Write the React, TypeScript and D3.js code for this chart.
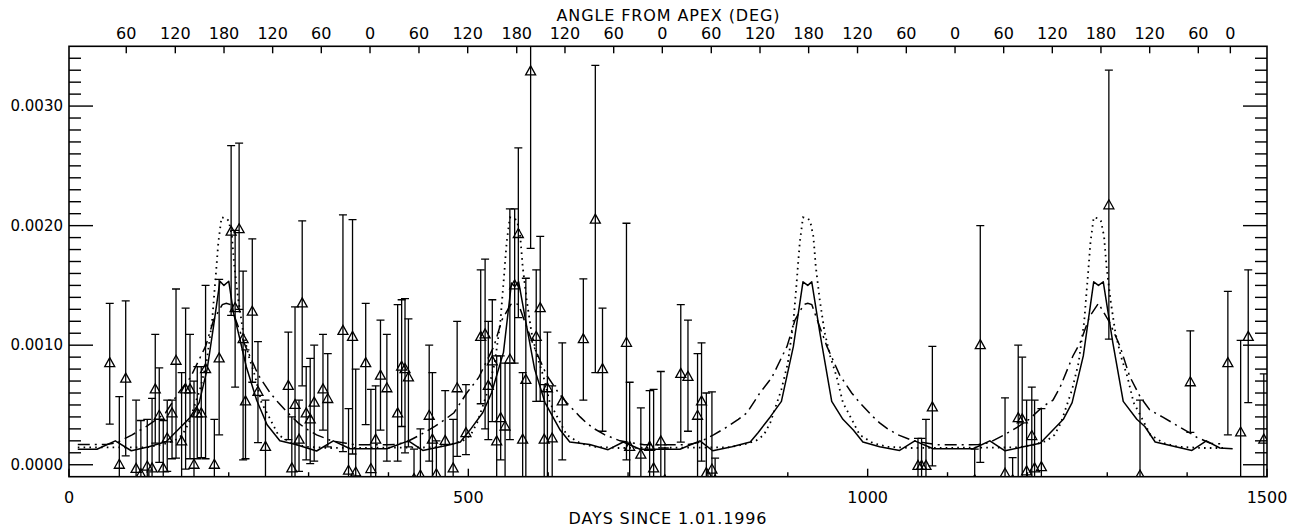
import React from "react";
import * as d3 from "d3";

// Observations: day, value, lower and upper end of the error bar
const obsDay = [51, 63, 71, 84, 90, 98, 104, 108, 113, 118, 123, 129, 134, 141, 146, 151.5, 156.5, 160.6, 165.6, 171, 182, 188, 203, 208, 213, 218, 221, 229.5, 236.6, 246, 274.6, 279, 283, 288, 292, 297, 302, 307, 318, 324, 343, 350, 355, 359, 371.5, 378, 384, 390, 398, 411.5, 416.5, 420.7, 425, 432, 440, 451, 455, 460, 471, 481, 486, 497, 515.5, 521, 525, 530, 535.5, 540.5, 546, 552, 558, 562.6, 568, 572, 578, 585, 590, 595, 599, 605, 617.6, 644, 659, 668, 698, 702, 716, 727, 732, 741, 746, 766, 775, 787, 792, 798, 805, 809, 1063, 1067.5, 1073, 1081, 1134, 1141, 1172, 1181.5, 1188.5, 1193.5, 1199, 1205.5, 1209, 1217.5, 1302, 1341, 1404, 1451, 1467, 1476.5, 1496];
const obsValue = [8.5e-4, 0, 7.2e-4, -0.35e-4, -0.8e-4, -0.15e-4, -0.3e-4, 6.3e-4, 4.1e-4, -0.3e-4, 2.2e-4, 4.3e-4, 8.7e-4, 1.95e-4, 6.3e-4, 6.3e-4, 0, 4.3e-4, 4.3e-4, 8.0e-4, 0, 8.9e-4, 19.5e-4, 13.1e-4, 19.7e-4, 10.5e-4, 5.3e-4, 12.8e-4, 6.1e-4, 1.5e-4, 6.6e-4, -0.3e-4, 5.0e-4, 2.1e-4, 13.5e-4, 4.3e-4, 3.8e-4, 5.2e-4, 6.3e-4, 5.5e-4, 11.2e-4, -0.5e-4, 10.7e-4, -0.65e-4, 8.5e-4, -0.36e-4, 2.1e-4, 7.45e-4, 6.4e-4, 4.3e-4, 8.2e-4, 8.0e-4, 7.3e-4, -1.2e-4, -0.9e-4, 4.1e-4, 2.1e-4, -0.8e-4, 2.0e-4, -0.3e-4, 6.4e-4, 2.65e-4, 10.7e-4, 10.9e-4, 6.6e-4, 8.65e-4, 1.95e-4, 3.9e-4, 3.2e-4, 8.8e-4, 15.0e-4, 19.3e-4, 2.1e-4, 7.1e-4, 32.9e-4, 10.7e-4, 13.1e-4, 2.1e-4, 6.4e-4, 2.2e-4, 5.3e-4, 10.5e-4, 20.5e-4, 8.0e-4, 10.2e-4, 1.5e-4, 0.84e-4, 1.5e-4, -0.3e-4, 1.95e-4, -1.3e-4, 7.6e-4, 7.35e-4, 4.1e-4, 5.3e-4, -0.7e-4, -0.4e-4, -1.3e-4, -0.1e-4, -0.1e-4, -0.1e-4, 4.8e-4, -1.3e-4, 10.0e-4, -0.75e-4, -1.3e-4, 3.9e-4, 3.8e-4, -0.55e-4, 2.4e-4, -0.3e-4, -0.2e-4, 21.7e-4, -0.9e-4, 6.9e-4, 8.5e-4, 2.7e-4, 10.7e-4, 2.1e-4];
const obsLow = [3.4e-4, -2e-4, 0.75e-4, -2e-4, -2e-4, -2e-4, -2e-4, 1.8e-4, 0.2e-4, -2e-4, -0.55e-4, 0.5e-4, 0.55e-4, -2e-4, -0.36e-4, 0.5e-4, -2e-4, 0.5e-4, 0.6e-4, 0.5e-4, -2e-4, 2.5e-4, 12.5e-4, 6.5e-4, 13.0e-4, 0.4e-4, 0.5e-4, 6.9e-4, 1.85e-4, -2e-4, 2.1e-4, -2e-4, -2e-4, -0.55e-4, 6.6e-4, 0.4e-4, 0.1e-4, 0.3e-4, 2.9e-4, 1.5e-4, 1.1e-4, -2e-4, 0.9e-4, -2e-4, 3.35e-4, -2e-4, -2e-4, 2.9e-4, 0.3e-4, 0.3e-4, 3.2e-4, 1.0e-4, 1.5e-4, -2e-4, -2e-4, 0.3e-4, -2e-4, -2e-4, -2e-4, -2e-4, 0.7e-4, 0.84e-4, 5.1e-4, 3.0e-4, 2.1e-4, 3.6e-4, -2e-4, 0.4e-4, -2e-4, 2.1e-4, 8.5e-4, 12.3e-4, -2e-4, -2e-4, 18.1e-4, 5.3e-4, 5.3e-4, -2e-4, -2e-4, -2e-4, 0.4e-4, 5.4e-4, 7.7e-4, 2.8e-4, 0.4e-4, -2e-4, -2e-4, -2e-4, -2e-4, -2e-4, -2e-4, 1.9e-4, 2.8e-4, -2e-4, 0.3e-4, -2e-4, -2e-4, -2e-4, -2e-4, -2e-4, -2e-4, -0.1e-4, -2e-4, 0.2e-4, -2e-4, -2e-4, -2e-4, -2e-4, -2e-4, -2e-4, -2e-4, -2e-4, 10.5e-4, -2e-4, 2.7e-4, 2.5e-4, -2e-4, 5.2e-4, -2e-4];
const obsHigh = [13.5e-4, 5.7e-4, 13.7e-4, 5.4e-4, 3.7e-4, 3.8e-4, 5.55e-4, 10.9e-4, 8.1e-4, 3.7e-4, 5.4e-4, 5.4e-4, 14.7e-4, 7.7e-4, 13.1e-4, 10.9e-4, 7.0e-4, 8.2e-4, 8.2e-4, 15.0e-4, 3.8e-4, 15.5e-4, 26.7e-4, 19.6e-4, 26.9e-4, 16.2e-4, 9.6e-4, 18.9e-4, 10.3e-4, 5.4e-4, 11.1e-4, 4.0e-4, 13.2e-4, 5.4e-4, 20.4e-4, 8.2e-4, 8.9e-4, 10.0e-4, 10.9e-4, 9.3e-4, 20.9e-4, 4.7e-4, 20.5e-4, 8.0e-4, 13.5e-4, 6.3e-4, 6.6e-4, 12.1e-4, 10.9e-4, 13.4e-4, 13.8e-4, 13.9e-4, 12.2e-4, 1.3e-4, 3.0e-4, 10.0e-4, 7.7e-4, 2.0e-4, 6.2e-4, 3.8e-4, 12.0e-4, 6.7e-4, 16.3e-4, 17.2e-4, 12.0e-4, 13.8e-4, 9.1e-4, 9.1e-4, 8.5e-4, 21.4e-4, 21.4e-4, 26.5e-4, 7.7e-4, 15.6e-4, 37e-4, 16.3e-4, 19.1e-4, 6.7e-4, 11.1e-4, 6.6e-4, 10.2e-4, 15.55e-4, 33.4e-4, 13.1e-4, 20.2e-4, 6.9e-4, 4.75e-4, 6.2e-4, 6.3e-4, 7.8e-4, 1.4e-4, 13.4e-4, 12.1e-4, 9.3e-4, 10.2e-4, 6.0e-4, 6.1e-4, 0.55e-4, 2.2e-4, 2.2e-4, 3.8e-4, 9.9e-4, 1.3e-4, 20.0e-4, 5.6e-4, 0.6e-4, 10.0e-4, 9.0e-4, 5.4e-4, 6.5e-4, 5.4e-4, 4.7e-4, 33.0e-4, 5.4e-4, 11.2e-4, 14.5e-4, 10.4e-4, 16.3e-4, 7.6e-4];

// Model curves
const solidDay = [11, 35, 58, 78, 100, 122, 139, 151, 163, 173, 181, 189, 194, 200, 206, 214, 222, 235, 248, 264, 285, 310, 331, 352, 398, 425, 443, 465, 477, 490, 502, 518, 529, 544, 554, 558, 563, 573, 583, 596, 615, 627, 652, 675, 694, 715, 765, 790, 806, 830, 853, 863, 878, 892, 907, 919, 925, 930, 940, 955, 969, 982, 994, 1015, 1040, 1059, 1082, 1132, 1153, 1172, 1195, 1216, 1232, 1245, 1256, 1270, 1283, 1289, 1295, 1307, 1320, 1337, 1347, 1360, 1383, 1406, 1424, 1441, 1457];
const solidValue = [1.3e-4, 1.3e-4, 2.0e-4, 1.17e-4, 1.5e-4, 1.95e-4, 3.1e-4, 3.9e-4, 5.2e-4, 8.0e-4, 11.6e-4, 15.35e-4, 15.0e-4, 15.35e-4, 12.7e-4, 10.5e-4, 8.2e-4, 5.4e-4, 3.35e-4, 2.0e-4, 1.67e-4, 1.15e-4, 2.0e-4, 1.34e-4, 1.34e-4, 2.0e-4, 1.2e-4, 1.5e-4, 1.67e-4, 1.9e-4, 2.9e-4, 4.35e-4, 6.0e-4, 9.4e-4, 15.2e-4, 14.9e-4, 15.3e-4, 11.6e-4, 8.0e-4, 5.2e-4, 2.9e-4, 1.9e-4, 1.7e-4, 1.26e-4, 1.9e-4, 1.3e-4, 1.3e-4, 2.0e-4, 1.17e-4, 1.5e-4, 1.9e-4, 2.7e-4, 4.0e-4, 5.3e-4, 9.9e-4, 15.3e-4, 15.0e-4, 15.3e-4, 11.1e-4, 5.3e-4, 3.8e-4, 2.9e-4, 1.9e-4, 1.5e-4, 1.2e-4, 2.0e-4, 1.34e-4, 1.34e-4, 2.0e-4, 1.17e-4, 1.5e-4, 1.8e-4, 2.9e-4, 3.8e-4, 5.2e-4, 9.1e-4, 15.3e-4, 15.0e-4, 15.3e-4, 10.2e-4, 5.3e-4, 3.8e-4, 3.2e-4, 1.9e-4, 1.55e-4, 1.2e-4, 2.0e-4, 1.4e-4, 1.34e-4];

const dashDay = [11, 37, 47, 60, 79, 97, 110, 121, 137, 152, 171, 181, 192, 197, 202, 210, 221, 237, 252, 262, 279, 287, 297, 310, 329, 347, 359, 372, 398, 408, 421, 440, 458, 471, 482, 498, 513, 532, 542, 553, 558, 563, 571, 582, 598, 613, 623, 640, 648, 658, 671, 690, 708, 720, 739, 765, 775, 788, 807, 825, 838, 849, 865, 880, 899, 909, 920, 925, 930, 938, 949, 965, 980, 990, 1007, 1015, 1025, 1038, 1057, 1075, 1087, 1103, 1129, 1139, 1152, 1171, 1189, 1202, 1220, 1232, 1241, 1257, 1266, 1278, 1289, 1303, 1316, 1328, 1341, 1353, 1369, 1387, 1400, 1412, 1429, 1445];
const dashValue = [1.7e-4, 1.7e-4, 1.7e-4, 1.85e-4, 2.5e-4, 3.2e-4, 3.8e-4, 4.35e-4, 6.0e-4, 7.3e-4, 9.9e-4, 12.1e-4, 13.4e-4, 13.5e-4, 13.4e-4, 11.9e-4, 9.9e-4, 7.5e-4, 6.0e-4, 5.2e-4, 4.0e-4, 3.5e-4, 3.0e-4, 2.5e-4, 2.0e-4, 1.8e-4, 1.67e-4,
  1.67e-4, 1.67e-4, 1.7e-4, 1.85e-4, 2.5e-4, 3.2e-4, 3.8e-4, 4.35e-4, 6.0e-4, 7.3e-4, 9.9e-4, 12.1e-4, 13.4e-4, 13.5e-4, 13.4e-4, 11.9e-4, 9.9e-4, 7.5e-4, 6.0e-4, 5.2e-4, 4.0e-4, 3.5e-4, 3.0e-4, 2.5e-4, 2.0e-4, 1.8e-4, 1.67e-4,
  1.67e-4, 1.67e-4, 1.7e-4, 1.85e-4, 2.5e-4, 3.2e-4, 3.8e-4, 4.35e-4, 6.0e-4, 7.3e-4, 9.9e-4, 12.1e-4, 13.4e-4, 13.5e-4, 13.4e-4, 11.9e-4, 9.9e-4, 7.5e-4, 6.0e-4, 5.2e-4, 4.0e-4, 3.5e-4, 3.0e-4, 2.5e-4, 2.0e-4, 1.8e-4, 1.67e-4,
  1.67e-4, 1.67e-4, 1.7e-4, 1.85e-4, 2.5e-4, 3.2e-4, 3.8e-4, 4.9e-4, 5.4e-4, 6.5e-4, 9.1e-4, 10.2e-4, 12.4e-4, 13.5e-4, 11.9e-4, 9.9e-4, 7.4e-4, 5.7e-4, 4.6e-4, 4.0e-4, 3.3e-4, 2.8e-4, 2.3e-4, 1.8e-4, 1.73e-4];

const dotDay = [11, 97, 117, 132, 142, 150, 157, 164, 172, 179, 183, 187, 191, 197, 200, 204, 207, 212, 218, 225, 233, 241, 252, 262, 279, 297, 327,
  458, 478, 493, 503, 511, 518, 525, 533, 540, 544, 548, 552, 558, 561, 565, 568, 573, 579, 586, 594, 602, 613, 623, 640, 658, 688,
  825, 845, 860, 870, 878, 885, 892, 900, 907, 911, 915, 919, 925, 928, 932, 935, 940, 946, 953, 961, 969, 980, 990, 1007, 1025, 1055,
  1189, 1209, 1224, 1234, 1242, 1249, 1256, 1264, 1271, 1275, 1279, 1283, 1289, 1292, 1296, 1299, 1304, 1310, 1317, 1325, 1333, 1344, 1354, 1371, 1389, 1419, 1445];
const dotValue = [1.45e-4, 1.45e-4, 1.7e-4, 2.0e-4, 2.5e-4, 3.5e-4, 4.9e-4, 6.3e-4, 8.5e-4, 11.9e-4, 15.2e-4, 18.6e-4, 20.7e-4, 20.6e-4, 20.4e-4, 19.1e-4, 16.6e-4, 13.8e-4, 11.1e-4, 9.1e-4, 7.4e-4, 5.2e-4, 3.8e-4, 2.5e-4, 1.8e-4, 1.5e-4, 1.4e-4,
  1.45e-4, 1.7e-4, 2.0e-4, 2.5e-4, 3.5e-4, 4.9e-4, 6.3e-4, 8.5e-4, 11.9e-4, 15.2e-4, 18.6e-4, 20.7e-4, 20.6e-4, 20.4e-4, 19.1e-4, 16.6e-4, 13.8e-4, 11.1e-4, 9.1e-4, 7.4e-4, 5.2e-4, 3.8e-4, 2.5e-4, 1.8e-4, 1.5e-4, 1.4e-4,
  1.45e-4, 1.7e-4, 2.0e-4, 2.5e-4, 3.5e-4, 4.9e-4, 6.3e-4, 8.5e-4, 11.9e-4, 15.2e-4, 18.6e-4, 20.7e-4, 20.6e-4, 20.4e-4, 19.1e-4, 16.6e-4, 13.8e-4, 11.1e-4, 9.1e-4, 7.4e-4, 5.2e-4, 3.8e-4, 2.5e-4, 1.8e-4, 1.5e-4, 1.4e-4,
  1.45e-4, 1.7e-4, 2.0e-4, 2.5e-4, 3.5e-4, 4.9e-4, 6.3e-4, 8.5e-4, 11.9e-4, 15.2e-4, 18.6e-4, 20.7e-4, 20.6e-4, 20.4e-4, 19.1e-4, 16.6e-4, 13.8e-4, 11.1e-4, 9.1e-4, 7.4e-4, 5.2e-4, 3.8e-4, 2.5e-4, 1.8e-4, 1.5e-4, 1.4e-4, 1.4e-4];

// Axes
const yTickValues = [0, 0.001, 0.002, 0.003];
const yTickLabels = ["0.0000", "0.0010", "0.0020", "0.0030"];
const xTickValues = [0, 500, 1000, 1500];
const xTickLabels = ["0", "500", "1000", "1500"];
const angleTickDays = [71.7, 133.1, 194.1, 255.0, 315.9, 376.9, 438.2, 499.2, 560.6, 621.0, 682.0, 742.9, 804.2, 865.2, 926.1, 987.3, 1048.4, 1109.4, 1170.3, 1231.2, 1292.1, 1353.1, 1414.0, 1454.1];
const angleTickLabels = ["60", "120", "180", "120", "60", "0", "60", "120", "180", "120", "60", "0", "60", "120", "180", "120", "60", "0", "60", "120", "180", "120", "60", "0"];

const FONT = "'DejaVu Sans', sans-serif";

export default function App() {
  const W = 1297, H = 529;
  const left = 69, right = 1267, top = 46.3, bottom = 476.7;
  const x = d3.scaleLinear().domain([0, 1500]).range([left, right]);
  const y = d3.scaleLinear().domain([-0.0001, 0.0035]).range([bottom, top]);
  const lineGen = d3.line<[number, number]>();
  const path = (days: number[], vals: number[]) =>
    lineGen(days.map((d, i) => [x(d), y(vals[i])] as [number, number])) || "";

  const yMinor = d3.range(0, 35).map((i) => i * 1e-4);
  const xMinor = d3.range(0, 1501, 100);

  return (
    <svg width={W} height={H} style={{ position: "fixed", left: 0, top: 0, background: "#fff" }}
      fontFamily={FONT}>
      <defs>
        <clipPath id="plot">
          <rect x={left} y={top} width={right - left} height={bottom - top} />
        </clipPath>
      </defs>
      <rect x={0} y={0} width={W} height={H} fill="#fff" />

      {/* curves */}
      <g clipPath="url(#plot)" fill="none" stroke="#000">
        <path d={path(dotDay, dotValue)} strokeWidth={1.8} strokeDasharray="1.6 4.2" />
        <path d={path(dashDay, dashValue)} strokeWidth={1.5} strokeDasharray="12 5 2 5" />
        <path d={path(solidDay, solidValue)} strokeWidth={1.5} strokeLinejoin="round" />
      </g>

      {/* observations */}
      <g clipPath="url(#plot)" fill="none" stroke="#000" strokeWidth={1.3}>
        {obsDay.map((d, i) => {
          const cx = x(d);
          const cy = y(obsValue[i]);
          const yl = y(obsLow[i]);
          const yh = y(obsHigh[i]);
          return (
            <g key={i}>
              <line x1={cx} x2={cx} y1={yl} y2={yh} />
              <line x1={cx - 4} x2={cx + 4} y1={yh} y2={yh} />
              <line x1={cx - 4} x2={cx + 4} y1={yl} y2={yl} />
              <polygon points={`${cx},${cy - 5.5} ${cx + 5},${cy + 3.5} ${cx - 5},${cy + 3.5}`} />
            </g>
          );
        })}
      </g>

      {/* frame */}
      <rect x={left} y={top} width={right - left} height={bottom - top} fill="none" stroke="#000" strokeWidth={1.6} />

      {/* y ticks both sides */}
      <g stroke="#000" strokeWidth={1.4}>
        {yMinor.map((v, i) => {
          const len = i % 10 === 0 ? 24 : 12;
          const yy = y(v);
          return (
            <g key={i}>
              <line x1={left} x2={left + len} y1={yy} y2={yy} />
              <line x1={right} x2={right - len} y1={yy} y2={yy} />
            </g>
          );
        })}
        {xMinor.map((d, i) => {
          const len = d % 500 === 0 ? 8 : 4.5;
          return <line key={i} x1={x(d)} x2={x(d)} y1={bottom} y2={bottom - len} />;
        })}
        {angleTickDays.map((d, i) => (
          <line key={i} x1={x(d)} x2={x(d)} y1={top} y2={top + 7} />
        ))}
      </g>

      {/* labels */}
      <g fill="#000" fontSize={15}>
        {yTickValues.map((v, i) => (
          <text key={i} x={63} y={y(v)} textAnchor="end" dominantBaseline="central">{yTickLabels[i]}</text>
        ))}
      </g>
      <g fill="#000" fontSize={16}>
        {xTickValues.map((d, i) => (
          <text key={i} x={x(d)} y={497.5} textAnchor="middle" dominantBaseline="central">{xTickLabels[i]}</text>
        ))}
        {angleTickDays.map((d, i) => (
          <text key={i} x={x(d)} y={33.5} textAnchor="middle" dominantBaseline="central">{angleTickLabels[i]}</text>
        ))}
        <text x={668} y={15} textAnchor="middle" dominantBaseline="central" textLength={223} lengthAdjust="spacing">ANGLE FROM APEX (DEG)</text>
        <text x={667.5} y={518.5} textAnchor="middle" dominantBaseline="central" textLength={198} lengthAdjust="spacing">DAYS SINCE 1.01.1996</text>
      </g>
    </svg>
  );
}
